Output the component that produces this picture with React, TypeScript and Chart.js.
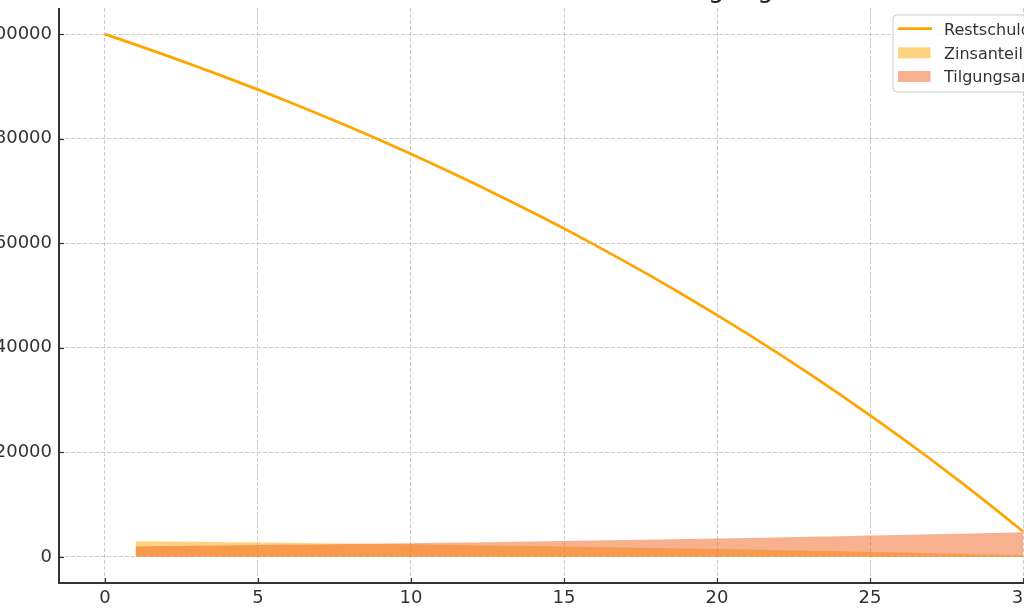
import React, { useEffect, useRef } from "react";
import { Chart, registerables } from "chart.js";

Chart.register(...registerables);

// ---- data ----
const years = [0, 1, 2, 3, 4, 5, 6, 7, 8, 9, 10, 11, 12, 13, 14, 15, 16, 17, 18, 19, 20, 21, 22, 23, 24, 25, 26, 27, 28, 29, 30];
const restschuld = [100000, 98000, 95940, 93818, 91633, 89382, 87063, 84675, 82215, 79682, 77072, 74384, 71616, 68764, 65827, 62802, 59686, 56477, 53171, 49766, 46259, 42647, 38926, 35094, 31147, 27081, 22894, 18581, 14138, 9562, 4849];
const paymentYears = [1, 2, 3, 4, 5, 6, 7, 8, 9, 10, 11, 12, 13, 14, 15, 16, 17, 18, 19, 20, 21, 22, 23, 24, 25, 26, 27, 28, 29, 30];
const zinsanteil = [3000, 2940, 2878, 2815, 2749, 2681, 2612, 2540, 2466, 2390, 2312, 2232, 2148, 2063, 1975, 1884, 1791, 1694, 1595, 1493, 1388, 1279, 1168, 1053, 934, 812, 687, 557, 424, 287];
const tilgungsanteil = [2000, 2060, 2122, 2185, 2251, 2319, 2388, 2460, 2534, 2610, 2688, 2768, 2852, 2937, 3025, 3116, 3209, 3306, 3405, 3507, 3612, 3721, 3832, 3947, 4066, 4188, 4313, 4443, 4576, 4713];
const xTicks = [0, 5, 10, 15, 20, 25, 30];
const yTicks = [0, 20000, 40000, 60000, 80000, 100000];
const seriesLabels = ["Restschuld", "Zinsanteil", "Tilgungsanteil"];
const chartTitle = "Restschuld – Zinsen und Tilgung";

// ---- styles ----
const FONT = "'DejaVu Sans', sans-serif";
const LINE_COLOR = "#FFA500";
const ZINS_COLOR = "rgba(255,165,0,0.5)";
const TILG_COLOR = "rgba(240,100,30,0.5)";
const TEXT_COLOR = "#333333";
const OFF_X = 30;
const OFF_Y = 32;
const CW = 1119;
const CH = 665;

const decor = {
  id: "decor",
  afterDatasetsDraw(chart: any) {
    const { ctx, chartArea: a, scales } = chart;
    ctx.save();
    ctx.strokeStyle = "#333333";
    ctx.lineWidth = 1.2;
    ctx.setLineDash([]);
    xTicks.forEach((v) => {
      const px = Math.round(scales.x.getPixelForValue(v)) + 0.5;
      ctx.beginPath();
      ctx.moveTo(px, a.bottom);
      ctx.lineTo(px, a.bottom - 5);
      ctx.stroke();
    });
    yTicks.forEach((v) => {
      const py = Math.round(scales.y.getPixelForValue(v)) + 0.5;
      ctx.beginPath();
      ctx.moveTo(a.left, py);
      ctx.lineTo(a.left + 5, py);
      ctx.stroke();
    });
    ctx.lineWidth = 2;
    ctx.beginPath();
    ctx.moveTo(a.left, a.top);
    ctx.lineTo(a.left, a.bottom);
    ctx.lineTo(a.right, a.bottom);
    ctx.stroke();
    ctx.restore();
  },
  afterDraw(chart: any) {
    const { ctx, chartArea: a } = chart;
    ctx.save();
    // title
    ctx.fillStyle = "#222222";
    ctx.font = `26px ${FONT}`;
    ctx.textAlign = "center";
    ctx.textBaseline = "alphabetic";
    ctx.fillText(chartTitle, (a.left + a.right) / 2, 28.5);

    // legend (matplotlib style)
    const bx = 923, by = 47, bw = 169, bh = 77, r = 4;
    ctx.beginPath();
    ctx.moveTo(bx + r, by);
    ctx.lineTo(bx + bw - r, by);
    ctx.quadraticCurveTo(bx + bw, by, bx + bw, by + r);
    ctx.lineTo(bx + bw, by + bh - r);
    ctx.quadraticCurveTo(bx + bw, by + bh, bx + bw - r, by + bh);
    ctx.lineTo(bx + r, by + bh);
    ctx.quadraticCurveTo(bx, by + bh, bx, by + bh - r);
    ctx.lineTo(bx, by + r);
    ctx.quadraticCurveTo(bx, by, bx + r, by);
    ctx.closePath();
    ctx.fillStyle = "rgba(255,255,255,0.8)";
    ctx.fill();
    ctx.strokeStyle = "#cccccc";
    ctx.lineWidth = 1;
    ctx.stroke();

    ctx.strokeStyle = LINE_COLOR;
    ctx.lineWidth = 2.75;
    ctx.beginPath();
    ctx.moveTo(928, 60.7);
    ctx.lineTo(962, 60.7);
    ctx.stroke();
    ctx.fillStyle = ZINS_COLOR;
    ctx.fillRect(928, 79.3, 32.5, 11);
    ctx.fillStyle = TILG_COLOR;
    ctx.fillRect(928, 103, 32.5, 11);

    ctx.fillStyle = TEXT_COLOR;
    ctx.font = `16px ${FONT}`;
    ctx.textAlign = "left";
    ctx.fillText(seriesLabels[0], 974, 66.5);
    ctx.fillText(seriesLabels[1], 974, 90.6);
    ctx.fillText(seriesLabels[2], 974, 114.1);
    ctx.restore();
  },
};

export default function App() {
  const ref = useRef<HTMLCanvasElement | null>(null);

  useEffect(() => {
    if (!ref.current) return;
    const chart = new Chart(ref.current, {
      type: "line",
      data: {
        datasets: [
          {
            label: seriesLabels[0],
            data: years.map((x, i) => ({ x, y: restschuld[i] })),
            borderColor: LINE_COLOR,
            borderWidth: 2.75,
            pointRadius: 0,
            tension: 0,
            fill: false,
            order: 0,
          },
          {
            label: seriesLabels[1],
            data: paymentYears.map((x, i) => ({ x, y: zinsanteil[i] })),
            borderColor: "transparent",
            borderWidth: 0,
            backgroundColor: ZINS_COLOR,
            pointRadius: 0,
            tension: 0,
            fill: "origin",
            order: 2,
          },
          {
            label: seriesLabels[2],
            data: paymentYears.map((x, i) => ({ x, y: tilgungsanteil[i] })),
            borderColor: "transparent",
            borderWidth: 0,
            backgroundColor: TILG_COLOR,
            pointRadius: 0,
            tension: 0,
            fill: "origin",
            order: 1,
          },
        ],
      },
      options: {
        animation: false,
        responsive: false,
        devicePixelRatio: 1,
        layout: { padding: { top: 40, right: 20, left: 0, bottom: 0 } },
        plugins: {
          legend: { display: false },
          title: { display: false },
          tooltip: { enabled: false },
        },
        scales: {
          x: {
            type: "linear",
            min: -1.5,
            max: 31.5,
            afterBuildTicks: (s: any) => {
              s.ticks = xTicks.map((v) => ({ value: v }));
            },
            afterFit: (s: any) => {
              s.height = 50;
            },
            grid: { color: "rgba(176,176,176,0.65)", lineWidth: 1, drawTicks: false },
            border: { display: false, dash: [4, 2] },
            ticks: {
              color: TEXT_COLOR,
              font: { family: FONT, size: 18 },
              padding: 5,
              autoSkip: false,
              maxRotation: 0,
              callback: (v: any) => String(v),
            },
          },
          y: {
            type: "linear",
            min: -5000,
            max: 105000,
            afterBuildTicks: (s: any) => {
              s.ticks = yTicks.map((v) => ({ value: v }));
            },
            afterFit: (s: any) => {
              s.width = 59 + OFF_X;
            },
            grid: { color: "rgba(176,176,176,0.65)", lineWidth: 1, drawTicks: false },
            border: { display: false, dash: [4, 2] },
            ticks: {
              color: TEXT_COLOR,
              font: { family: FONT, size: 18 },
              padding: 7,
              autoSkip: false,
              callback: (v: any) => String(v),
            },
          },
        },
      },
      plugins: [decor],
    } as any);
    return () => chart.destroy();
  }, []);

  return (
    <div
      style={{
        position: "fixed",
        left: 0,
        top: 0,
        width: 1024,
        height: 610,
        overflow: "hidden",
        background: "#ffffff",
      }}
    >
      <canvas
        ref={ref}
        width={CW}
        height={CH}
        style={{ position: "absolute", left: -OFF_X, top: -OFF_Y, width: CW, height: CH }}
      />
    </div>
  );
}
